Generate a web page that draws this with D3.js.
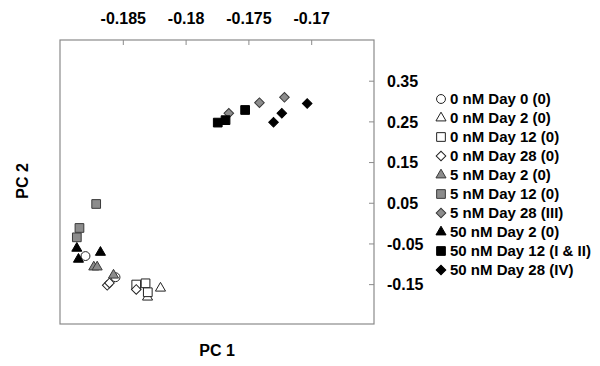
<html>
    <meta charset="utf-8">
    <style>
        body { margin: 0; background: white; }
        text { font-family: "Liberation Sans", Arial, sans-serif; font-weight: bold; }
    </style>
<script src='https://d3js.org/d3.v7.min.js'></script>
    <body onload="init()">
        <svg width=600 height=366></svg>
        <script>
            // legend order
            var groups = ["0 nM Day 0 (0)", "0 nM Day 2 (0)", "0 nM Day 12 (0)", "0 nM Day 28 (0)",
                          "5 nM Day 2 (0)", "5 nM Day 12 (0)", "5 nM Day 28 (III)",
                          "50 nM Day 2 (0)", "50 nM Day 12 (I & II)", "50 nM Day 28 (IV)"];
            var shapes = ["circle", "triangle", "square", "diamond",
                          "triangle", "square", "diamond",
                          "triangle", "square", "diamond"];
            var fills = ["open", "open", "open", "open", "gray", "gray", "gray", "black", "black", "black"];

            // PC1 / PC2 scores per group
            var pc1 = [
                [-0.18797, -0.18558],
                [-0.18200, -0.18303],
                [-0.18393, -0.18319, -0.18301],
                [-0.18624, -0.18606, -0.18393],
                [-0.18731, -0.18704, -0.18574],
                [-0.18712, -0.18845, -0.18866],
                [-0.17656, -0.17412, -0.17213],
                [-0.18866, -0.18853, -0.18678],
                [-0.17744, -0.17682, -0.17526],
                [-0.17300, -0.17234, -0.17032]
            ];
            var pc2 = [
                [-0.081, -0.133],
                [-0.160, -0.182],
                [-0.151, -0.148, -0.170],
                [-0.153, -0.147, -0.163],
                [-0.108, -0.108, -0.128],
                [0.047, -0.012, -0.035],
                [0.270, 0.296, 0.309],
                [-0.062, -0.089, -0.072],
                [0.247, 0.253, 0.278],
                [0.248, 0.270, 0.294]
            ];
            var xTicks = [-0.185, -0.18, -0.175, -0.17];
            var yTicks = [0.35, 0.25, 0.15, 0.05, -0.05, -0.15];

            function symbolPath(shape) {
                if (shape == "circle") return d3.symbol().type(d3.symbolCircle).size(62)();
                if (shape == "triangle") return d3.symbol().type(d3.symbolTriangle).size(44)();
                if (shape == "square") return d3.symbol().type(d3.symbolSquare).size(76)();
                return d3.symbol().type(d3.symbolSquare).size(46)();
            }
            function styleMark(sel, i) {
                sel.attr("d", symbolPath(shapes[i]))
                    .attr("transform", function() {
                        var t = d3.select(this).attr("transform");
                        return shapes[i] == "diamond" ? t + " rotate(45)" : t;
                    })
                    .style("fill", fills[i] == "open" ? "white" : (fills[i] == "gray" ? "#8c8c8c" : "black"))
                    .style("stroke", fills[i] == "open" ? "#222" : (fills[i] == "gray" ? "#3a3a3a" : "black"))
                    .style("stroke-width", 1);
            }
            // plain hyphen for negatives, like the original
            function plain(d) { return String(d); }

            function init() {
                var svg = d3.select("svg");
                var left = 60, right = 374, top = 40, bottom = 324;
                var xScale = d3.scaleLinear().domain([-0.19, -0.165]).range([left, right]);
                var yScale = d3.scaleLinear().domain([-0.248, 0.45]).range([bottom, top]);

                svg.append("rect")
                    .attr("x", left).attr("y", top)
                    .attr("width", right - left).attr("height", bottom - top)
                    .style("fill", "none").style("stroke", "#8a8a8a").style("stroke-width", 1.2);

                var xAxis = svg.append("g")
                    .attr("transform", "translate(0," + top + ")")
                    .call(d3.axisBottom(xScale).tickValues(xTicks).tickSize(5).tickFormat(plain));
                xAxis.select(".domain").remove();
                xAxis.selectAll("line").style("stroke", "#8a8a8a");
                xAxis.selectAll("text")
                    .attr("y", -16).attr("dy", 0)
                    .style("font-size", "16px").style("fill", "black");

                var yAxis = svg.append("g")
                    .attr("transform", "translate(" + right + ",0)")
                    .call(d3.axisLeft(yScale).tickValues(yTicks).tickSize(5).tickFormat(plain));
                yAxis.select(".domain").remove();
                yAxis.selectAll("line").style("stroke", "#8a8a8a");
                yAxis.selectAll("text")
                    .attr("x", 13).attr("dy", "0.36em")
                    .style("text-anchor", "start")
                    .style("font-size", "16px").style("fill", "black");

                groups.forEach(function(g, i) {
                    var pts = pc1[i].map(function(v, j) { return [v, pc2[i][j]]; });
                    svg.append("g").selectAll("path").data(pts)
                        .enter().append("path")
                            .attr("transform", function(d) { return "translate(" + xScale(d[0]) + "," + yScale(d[1]) + ")"; })
                            .call(styleMark, i);
                });

                var legend = svg.append("g");
                groups.forEach(function(g, i) {
                    var y = 99 + i * 19;
                    legend.append("path")
                        .attr("transform", "translate(441," + y + ")")
                        .call(styleMark, i);
                    legend.append("text")
                        .attr("x", 450).attr("y", y).attr("dy", "0.36em")
                        .style("font-size", "15px")
                        .text(g);
                });

                svg.append("text")
                    .attr("x", 217).attr("y", 356)
                    .attr("text-anchor", "middle")
                    .style("font-size", "16px")
                    .text("PC 1");
                svg.append("text")
                    .attr("transform", "translate(28,181) rotate(-90)")
                    .attr("text-anchor", "middle")
                    .style("font-size", "16px")
                    .text("PC 2");
            }
        </script>
    </body>
</html>
